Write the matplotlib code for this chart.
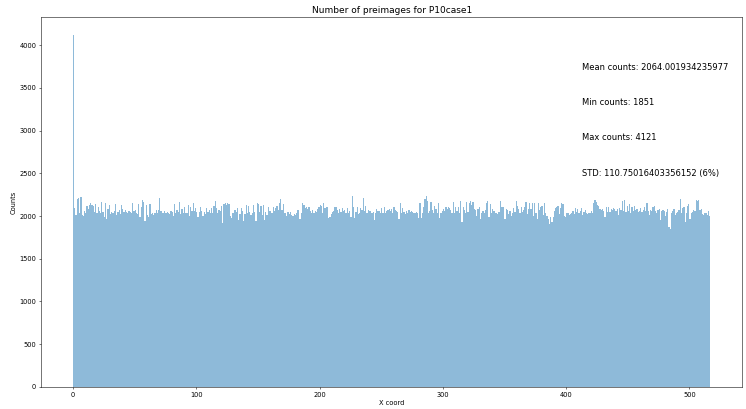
import numpy as np
import matplotlib
matplotlib.use("Agg")
import matplotlib.pyplot as plt

# counts per x coord (0..516)
counts = [
    4121, 2090, 2010, 2200, 2210, 2030, 2220, 2010, 2000, 2060, 2040, 2120, 2080, 2130, 2150, 2130, 2120, 2050, 2140, 2030,
    2110, 2060, 2040, 2160, 2050, 1990, 2150, 1960, 2080, 2130, 2020, 2050, 2040, 2060, 2140, 2010, 2050, 2070, 2020, 2130,
    2080, 2050, 2070, 2050, 2040, 2060, 2050, 2030, 2150, 2060, 2070, 2030, 2020, 2140, 1990, 2100, 2190, 2160, 1940, 2130,
    2010, 1990, 2140, 2020, 2040, 2010, 2030, 2070, 2040, 2070, 2210, 2060, 2040, 2030, 2060, 2040, 2050, 2030, 2020, 2060,
    2050, 2000, 2140, 2040, 2070, 2050, 2160, 2020, 2080, 2030, 2110, 2040, 2040, 2130, 2000, 2100, 2060, 2150, 2060, 2090,
    2050, 1990, 2050, 2110, 2060, 2000, 2050, 2020, 2090, 2050, 2070, 2030, 2090, 2040, 2120, 2170, 2090, 2030, 2070, 2060,
    2120, 1920, 2140, 2150, 2130, 2150, 2140, 2000, 1980, 2030, 2040, 2070, 2050, 2090, 1950, 2020, 2090, 2060, 1940, 2020,
    2130, 2040, 2120, 2050, 2010, 2030, 2130, 2050, 1940, 2150, 2140, 2050, 2120, 2010, 2130, 1950, 2050, 2010, 2110, 2060,
    2060, 2040, 2110, 2060, 2090, 2120, 2070, 2150, 2200, 2070, 2140, 2040, 2030, 2000, 2050, 2020, 2050, 2010, 2000, 2020,
    2010, 2030, 2070, 1960, 1970, 2040, 2150, 2130, 2090, 2110, 2080, 2100, 2060, 2040, 2070, 2030, 2060, 2050, 2080, 2110,
    2130, 2120, 2040, 2150, 2090, 2110, 2100, 1980, 1990, 2020, 2050, 2060, 2110, 2100, 2070, 2040, 2080, 2050, 2090, 2060,
    2070, 2040, 2090, 2040, 2060, 1990, 2240, 2110, 1980, 2050, 2100, 2020, 2030, 2090, 2070, 2210, 2060, 2120, 2030, 2070,
    2060, 2060, 2040, 2050, 1950, 2040, 2080, 2060, 2060, 2030, 2090, 2040, 2100, 2040, 2060, 2070, 2080, 2060, 2080, 2030,
    2100, 2070, 2060, 2050, 1970, 2150, 2040, 2090, 2050, 2020, 2060, 2040, 2070, 2050, 2060, 2050, 2030, 2040, 2050, 2030,
    1980, 2150, 1980, 2030, 2110, 2200, 2240, 2180, 2040, 2060, 2160, 2070, 2030, 2120, 2080, 2030, 2150, 1980, 2040, 2060,
    2080, 2060, 2100, 2080, 2100, 2090, 2070, 2030, 2160, 2040, 2100, 2060, 2110, 2030, 2170, 1930, 2110, 2070, 2040, 2160,
    2050, 2150, 2170, 2130, 2160, 2080, 2070, 2000, 2080, 2110, 1960, 2040, 2060, 2040, 2070, 2150, 2170, 1990, 2140, 2040,
    2080, 2060, 2040, 2030, 2020, 2050, 2170, 2110, 2100, 2110, 1960, 2080, 2070, 2020, 2060, 2000, 2040, 2090, 2050, 2170,
    2120, 2080, 2030, 2100, 2050, 2070, 2100, 2160, 2020, 2080, 2150, 2080, 2150, 2000, 2150, 2040, 1960, 2150, 2070, 2100,
    2120, 2010, 2150, 2030, 2000, 1960, 1910, 1990, 1930, 1990, 2060, 2090, 2100, 2120, 2020, 2090, 2150, 2140, 2000, 1990,
    2040, 2030, 2010, 2020, 2040, 2060, 2020, 2090, 2050, 2080, 2030, 2060, 2090, 2010, 2050, 2070, 2030, 2020, 2040, 2030,
    2060, 2040, 2150, 2190, 2160, 2130, 2120, 2080, 2070, 2080, 2060, 1990, 2100, 2050, 2110, 2050, 2080, 2070, 2090, 2080,
    2060, 2080, 2010, 2090, 2070, 2180, 2060, 2190, 2050, 2120, 2060, 2140, 2030, 2100, 2060, 2120, 2070, 2080, 2050, 2060,
    2090, 2050, 2070, 2110, 2060, 2150, 2060, 2010, 2070, 2060, 2110, 2120, 2060, 2030, 2070, 2080, 1950, 2060, 2070, 2060,
    2000, 2050, 2080, 1870, 1851, 2040, 2060, 2080, 2010, 2040, 2050, 2070, 2200, 2030, 2090, 2110, 1930, 2040, 2120, 2140,
    1970, 2040, 2050, 2070, 2060, 2190, 2170, 2190, 2070, 2080, 2020, 2010, 2030, 2040, 2010, 2060, 2000,
]
x_coords = np.arange(len(counts))

title = "Number of preimages for P10case1"
stats_lines = [
    "Mean counts: 2064.001934235977",
    "Min counts: 1851",
    "Max counts: 4121",
    "STD: 110.75016403356152 (6%)",
]

fig = plt.figure(figsize=(746 / 48, 409 / 48), dpi=48)
ax = fig.add_subplot(111)
fig.subplots_adjust(left=0.055, right=0.995, bottom=0.054, top=0.958)

ax.bar(x_coords, counts, width=1.0, align="edge", alpha=0.5, color="tab:blue",
       linewidth=0)

ax.set_title(title, fontsize=13.5)
ax.set_xlabel("X coord")
ax.set_ylabel("Counts")

# статистика: положение в долях от максимумов
x_max = x_coords[-1]
c_max = max(counts)
for k, line in enumerate(stats_lines):
    ax.text(0.8 * x_max, (0.9 - 0.1 * k) * c_max, line, fontsize=12.5)

fig.savefig("out.png", dpi=48)
